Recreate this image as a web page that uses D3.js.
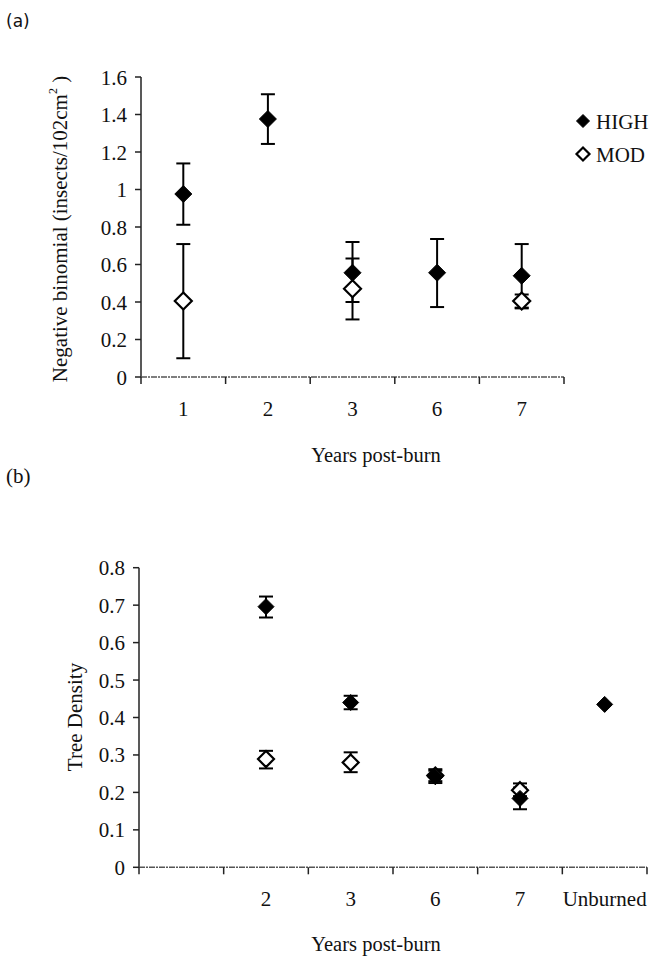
<!DOCTYPE html>
<html>
<head>
<meta charset="utf-8">
<script src="https://cdn.jsdelivr.net/npm/d3@7"></script>
<style>
  body { margin: 0; background: #fff; }
  svg text { font-family: "Liberation Serif", "Times New Roman", Times, serif; fill: #111; }
</style>
</head>
<body>
<svg id="chart" width="650" height="967" font-family="Liberation Serif"></svg>
<script>
// panel (a): insects
var yearsA = ["1", "2", "3", "6", "7"];
var highA   = [0.976, 1.376, 0.556, 0.556, 0.54];
var highALo = [0.812, 1.243, 0.40, 0.373, 0.37];
var highAHi = [1.139, 1.508, 0.72, 0.736, 0.709];
var modA    = [0.405, null, 0.471, null, 0.405];
var modALo  = [0.10, null, 0.307, null, 0.366];
var modAHi  = [0.709, null, 0.632, null, 0.44];
var ticksA  = [0, 0.2, 0.4, 0.6, 0.8, 1, 1.2, 1.4, 1.6];

// panel (b): tree density (first slot on the axis is empty)
var yearsB = [" ", "2", "3", "6", "7", "Unburned"];
var pointsB = ["2", "3", "6", "7", "Unburned"];
var highB   = [0.696, 0.44, 0.242, 0.184, 0.435];
var highBLo = [0.667, 0.422, 0.225, 0.155, 0.435];
var highBHi = [0.723, 0.458, 0.258, 0.213, 0.435];
var modB    = [0.289, 0.28, 0.245, 0.206, null];
var modBLo  = [0.264, 0.254, 0.23, 0.19, null];
var modBHi  = [0.311, 0.307, 0.262, 0.224, null];
var ticksB  = [0, 0.1, 0.2, 0.3, 0.4, 0.5, 0.6, 0.7, 0.8];

var svg = d3.select("#chart");
var serif = "'Liberation Serif', 'Times New Roman', serif";

function label(parent) {
    return parent.append("text").style("font-family", serif);
}

function diamond(g, x, y, r, filled) {
    g.append("path")
        .attr("d", "M" + x + "," + (y - r) + "L" + (x + r) + "," + y +
                   "L" + x + "," + (y + r) + "L" + (x - r) + "," + y + "Z")
        .attr("fill", filled ? "#000" : "#fff")
        .attr("stroke", "#000")
        .attr("stroke-width", filled ? 1 : 2.2);
}

function drawPanel(opt) {
    var g = svg.append("g");
    var x = d3.scaleBand().domain(opt.cats).range([opt.left, opt.right]);
    var y = d3.scaleLinear().domain([0, opt.max]).range([opt.bottom, opt.top]);

    // y axis
    g.append("line")
        .attr("x1", opt.left).attr("x2", opt.left)
        .attr("y1", y(0)).attr("y2", y(opt.max))
        .attr("stroke", "#222").attr("stroke-width", 1.5);
    opt.ticks.forEach(function(t) {
        g.append("line")
            .attr("x1", opt.left - 6).attr("x2", opt.left)
            .attr("y1", y(t)).attr("y2", y(t))
            .attr("stroke", "#222").attr("stroke-width", 1.5);
        label(g)
            .attr("x", opt.left - 14).attr("y", y(t) + 7.5)
            .attr("text-anchor", "end")
            .attr("font-size", 21)
            .text(String(+t.toFixed(1)));
    });

    // x axis
    g.append("line")
        .attr("x1", opt.left).attr("x2", opt.right)
        .attr("y1", y(0)).attr("y2", y(0))
        .attr("stroke", "#555").attr("stroke-width", 1.5)
        .attr("stroke-dasharray", "6,1,2,1");
    var bounds = opt.cats.map(function(c) { return x(c); }).concat([opt.right]);
    bounds.forEach(function(b) {
        g.append("line")
            .attr("x1", b).attr("x2", b)
            .attr("y1", y(0)).attr("y2", y(0) + 7)
            .attr("stroke", "#222").attr("stroke-width", 1.5);
    });
    opt.cats.forEach(function(c) {
        label(g)
            .attr("x", x(c) + x.bandwidth() / 2)
            .attr("y", y(0) + 39)
            .attr("text-anchor", "middle")
            .attr("font-size", 21)
            .text(c.trim());
    });

    // error bars, then markers (MOD underneath HIGH)
    function bars(vals, lo, hi) {
        opt.pts.forEach(function(c, i) {
            if (vals[i] == null || !(hi[i] > lo[i])) return;
            var cx = x(c) + x.bandwidth() / 2;
            g.append("line")
                .attr("x1", cx).attr("x2", cx)
                .attr("y1", y(lo[i])).attr("y2", y(hi[i]))
                .attr("stroke", "#000").attr("stroke-width", 2);
            [lo[i], hi[i]].forEach(function(v) {
                g.append("line")
                    .attr("x1", cx - opt.cap).attr("x2", cx + opt.cap)
                    .attr("y1", y(v)).attr("y2", y(v))
                    .attr("stroke", "#000").attr("stroke-width", 2);
            });
        });
    }
    function marks(vals, filled) {
        opt.pts.forEach(function(c, i) {
            if (vals[i] == null) return;
            diamond(g, x(c) + x.bandwidth() / 2, y(vals[i]), opt.r, filled);
        });
    }
    bars(opt.high, opt.highLo, opt.highHi);
    bars(opt.mod, opt.modLo, opt.modHi);
    marks(opt.mod, false);
    marks(opt.high, true);
    return g;
}

drawPanel({
    cats: yearsA, pts: yearsA, max: 1.6, ticks: ticksA,
    left: 141, right: 564, top: 77, bottom: 377, r: 8.5, cap: 7,
    high: highA, highLo: highALo, highHi: highAHi,
    mod: modA, modLo: modALo, modHi: modAHi
});

drawPanel({
    cats: yearsB, pts: pointsB, max: 0.8, ticks: ticksB,
    left: 139, right: 647, top: 567.7, bottom: 867.3, r: 8, cap: 7,
    high: highB, highLo: highBLo, highHi: highBHi,
    mod: modB, modLo: modBLo, modHi: modBHi
});

// panel letters
svg.append("text").attr("x", 6).attr("y", 27)
    .style("font-family", "'DejaVu Sans', sans-serif").attr("font-size", 17).text("(a)");
label(svg).attr("x", 6).attr("y", 483)
    .attr("font-size", 21).text("(b)");

// axis titles
label(svg).attr("x", 376).attr("y", 462)
    .attr("text-anchor", "middle").attr("font-size", 20.5).text("Years post-burn");
label(svg).attr("x", 376).attr("y", 951)
    .attr("text-anchor", "middle").attr("font-size", 20.5).text("Years post-burn");

var yl = label(svg)
    .attr("transform", "translate(67,229) rotate(-90)")
    .attr("text-anchor", "middle").attr("font-size", 21);
yl.append("tspan").text("Negative binomial (insects/102cm");
yl.append("tspan").attr("font-size", 12).attr("dy", -10).text("2");
yl.append("tspan").attr("dy", 10).text(" )");

label(svg)
    .attr("transform", "translate(82,717) rotate(-90)")
    .attr("text-anchor", "middle").attr("font-size", 21).text("Tree Density");

// legend
var legend = [["HIGH", true], ["MOD", false]];
legend.forEach(function(d, i) {
    var ly = 121 + i * 33;
    diamond(svg, 583, ly, 6.5, d[1]);
    label(svg).attr("x", 596).attr("y", ly + 7.5)
        .attr("font-size", 21).text(d[0]);
});
</script>
</body>
</html>
